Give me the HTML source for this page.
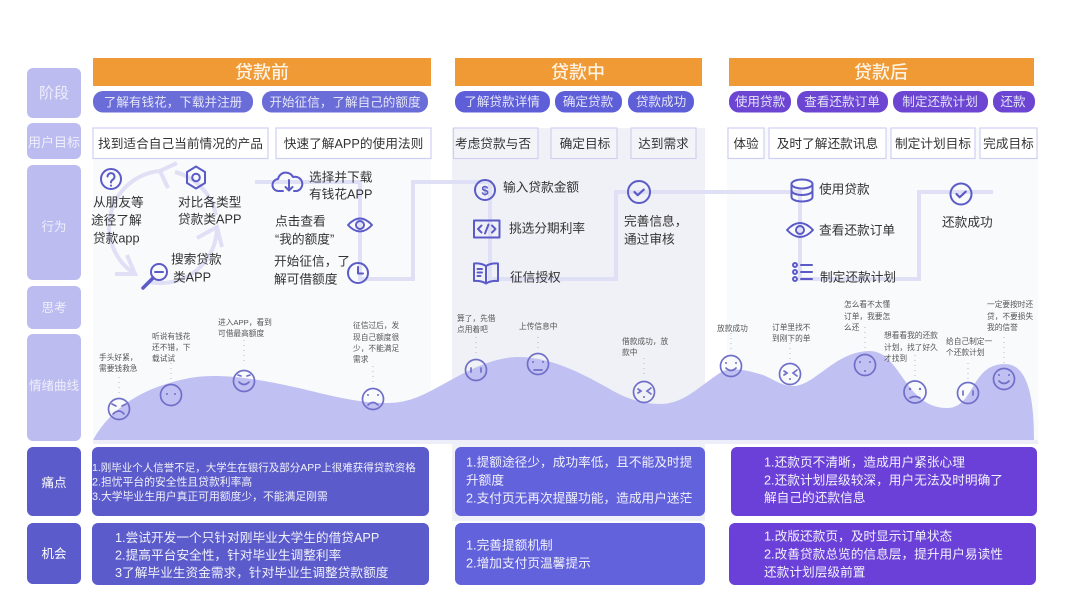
<!DOCTYPE html>
<html lang="zh">
<head>
<meta charset="utf-8">
<title>用户体验地图</title>
<style>
html,body{margin:0;padding:0;background:#fff}
svg{display:block;filter:blur(.3px)}
text{font-family:"Liberation Sans","Noto Sans CJK SC",sans-serif}
.lab{fill:#eeeefc;text-anchor:middle}
.pill{fill:#e4e5f8;font-size:12.6px;text-anchor:middle}
.ttl{fill:#fdf3e4;font-size:18px;font-weight:500;text-anchor:middle}
.goal{fill:#333;font-size:12.7px;text-anchor:middle}
.box{fill:#fff;stroke:#cfcff2;stroke-width:1.2}
.b{fill:#333;font-size:12.7px}
.s{fill:#555;font-size:7.7px}
.c{fill:#f1f1fb;font-size:12.7px}
.ic{fill:none;stroke:#5b5bc8;stroke-width:2;stroke-linecap:round;stroke-linejoin:round}
.f{fill:none;stroke:#6f6fc9;stroke-width:1.7;stroke-linecap:round}
.fd{fill:#6f6fc9}
.dot{stroke:#b5b5c4;stroke-width:1;stroke-dasharray:1 4;fill:none}
.con{fill:none;stroke:#dfdff6;stroke-width:4}
</style>
</head>
<body>
<svg width="1067" height="600" viewBox="0 0 1067 600" xmlns="http://www.w3.org/2000/svg">
<rect width="1067" height="600" fill="#fff"/>

<!-- column backgrounds -->
<rect x="93" y="159" width="338" height="282" fill="#f9fafc"/>
<rect x="452" y="128" width="253" height="393" fill="#f0f1f6"/>
<rect x="727" y="128" width="311" height="314" fill="#f9fafc"/>
<rect x="93" y="440" width="945" height="4" fill="#eeeefb"/>

<!-- left labels -->
<rect x="27" y="68" width="54" height="50" rx="6" fill="#bcbcf0"/>
<rect x="27" y="123" width="54" height="36" rx="6" fill="#bcbcf0"/>
<rect x="27" y="165" width="54" height="115" rx="6" fill="#bcbcf0"/>
<rect x="27" y="286" width="54" height="43" rx="6" fill="#bcbcf0"/>
<rect x="27" y="334" width="54" height="107" rx="6" fill="#bcbcf0"/>
<rect x="27" y="447" width="54" height="69" rx="6" fill="#5b5bcb"/>
<rect x="27" y="523" width="54" height="61" rx="6" fill="#5b5bcb"/>
<text class="lab" x="54" y="98" font-size="15">阶段</text>
<text class="lab" x="54" y="147" font-size="13">用户目标</text>
<text class="lab" x="54" y="231" font-size="12.5">行为</text>
<text class="lab" x="54" y="312" font-size="12.5">思考</text>
<text class="lab" x="54" y="390" font-size="12.5">情绪曲线</text>
<text class="lab" x="54" y="487" font-size="12.5" style="fill:#fff">痛点</text>
<text class="lab" x="54" y="558" font-size="12.5" style="fill:#fff">机会</text>

<!-- stage headers -->
<rect x="93" y="58" width="338" height="28" fill="#f09a36"/>
<rect x="455" y="58" width="247" height="28" fill="#f09a36"/>
<rect x="729" y="58" width="305" height="28" fill="#f09a36"/>
<text class="ttl" x="262" y="78.500">贷款前</text>
<text class="ttl" x="578" y="78.500">贷款中</text>
<text class="ttl" x="881" y="78.500">贷款后</text>

<!-- pills -->
<rect x="93" y="91" width="160" height="21.500" rx="10" fill="#6a6dd8"/>
<rect x="262" y="91" width="166" height="21.500" rx="10" fill="#6a6dd8"/>
<rect x="455" y="91" width="95" height="21.500" rx="10" fill="#5e5ed8"/>
<rect x="555" y="91" width="67" height="21.500" rx="10" fill="#5e5ed8"/>
<rect x="628" y="91" width="66" height="21.500" rx="10" fill="#5e5ed8"/>
<rect x="729" y="91" width="62" height="21.500" rx="10" fill="#6d45d3"/>
<rect x="797" y="91" width="91" height="21.500" rx="10" fill="#6d45d3"/>
<rect x="893" y="91" width="95" height="21.500" rx="10" fill="#6d45d3"/>
<rect x="993" y="91" width="42" height="21.500" rx="10" fill="#6d45d3"/>
<text class="pill" x="173" y="106.500">了解有钱花，下载并注册</text>
<text class="pill" x="345" y="106.500">开始征信，了解自己的额度</text>
<text class="pill" x="502" y="106">了解贷款详情</text>
<text class="pill" x="588" y="106">确定贷款</text>
<text class="pill" x="661" y="106">贷款成功</text>
<text class="pill" x="760" y="106">使用贷款</text>
<text class="pill" x="842" y="106">查看还款订单</text>
<text class="pill" x="940" y="106">制定还款计划</text>
<text class="pill" x="1013" y="106">还款</text>

<!-- goals -->
<rect class="box" x="93" y="128" width="175" height="30.500"/>
<rect class="box" x="276" y="128" width="155" height="30.500"/>
<rect class="box" x="453.500" y="128" width="84.500" height="30.500" style="fill:#f3f4f8"/>
<rect class="box" x="551" y="128" width="66" height="30.500" style="fill:#f3f4f8"/>
<rect class="box" x="631" y="128" width="65" height="30.500" style="fill:#f3f4f8"/>
<rect class="box" x="728" y="128" width="36" height="30.500"/>
<rect class="box" x="769" y="128" width="117" height="30.500"/>
<rect class="box" x="891" y="128" width="84" height="30.500"/>
<rect class="box" x="980" y="128" width="57" height="30.500"/>
<text class="goal" x="180.500" y="148">找到适合自己当前情况的产品</text>
<text class="goal" x="353.500" y="148">快速了解APP的使用法则</text>
<text class="goal" x="493" y="148">考虑贷款与否</text>
<text class="goal" x="585" y="148">确定目标</text>
<text class="goal" x="663.500" y="148">达到需求</text>
<text class="goal" x="746" y="148">体验</text>
<text class="goal" x="827.500" y="148">及时了解还款讯息</text>
<text class="goal" x="933" y="148">制定计划目标</text>
<text class="goal" x="1008.500" y="148">完成目标</text>

<!-- connector lines -->
<path class="con" d="M255 182H360V279H413V182H490V279H616V192H800V279H919V192H993"/>

<!-- cycle -->
<g class="con">
<path d="M160 171A56 56 0 0 0 135 274"/>
<path d="M150 282A56 56 0 0 0 217 227"/>
<path d="M216 215A56 56 0 0 0 175 172"/>
<path d="M177 163L160 171L168 188"/>
<path d="M197 238L217 227L222 247"/>
<path d="M115 274L135 274L127 255"/>
</g>

<!-- icons left -->
<g class="ic">
<circle cx="111" cy="179" r="10"/>
<path d="M107.500 176.500a3.500 3.500 0 1 1 5.500 3c-1.300.8-2 1.500-2 3"/>
<path d="M111 185.500v.2"/>
<path d="M196 166.500L205 172V183L196 188.500L187 183V172Z"/>
<circle cx="196" cy="177.500" r="3.800"/>
<circle cx="159" cy="272" r="8"/>
<path d="M155 272h8"/>
<path d="M153 278L143 288" stroke-width="3.500"/>
<path d="M283 191h-4a6 6 0 0 1-1-12a8 8 0 0 1 15-2a7 7 0 0 1 4 14h-3"/>
<path d="M289 180v10M285.500 187l3.500 3.500 3.500-3.500"/>
<path d="M348 225q12-13 24 0q-12 13-24 0Z" stroke-width="2"/>
<circle cx="360" cy="225" r="4"/>
<circle cx="358" cy="273" r="10"/>
<path d="M358 267v6.500h5"/>
</g>

<!-- icons middle -->
<g class="ic">
<circle cx="485" cy="190" r="10"/>
<text x="485" y="195" text-anchor="middle" font-size="13" font-weight="700" style="fill:#5b5bc8;stroke:none">$</text>
<rect x="474" y="220.500" width="25.500" height="17"/>
<path d="M481.500 225.500l-3.500 3.500 3.500 3.500M492 225.500l3.500 3.500-3.500 3.500M488.500 224.500l-3.500 9"/>
<path d="M486 266q-5-3-12-2.500V281q7-.5 12 2.500q5-3 12-2.500V263.500q-7-.5-12 2.500ZM486 266v17"/>
<path d="M477.500 269h4.500M477.500 272.500h4.500M477.500 276h3"/>
<circle cx="639" cy="192" r="11"/>
<path d="M634.500 192l3.200 3.200 6-5.500" stroke-width="2.200"/>
</g>

<!-- icons right -->
<g class="ic">
<ellipse cx="802" cy="184" rx="10.500" ry="4.500"/>
<path d="M791.500 184v13c0 2.500 4.500 4.500 10.500 4.500s10.500-2 10.500-4.500v-13"/>
<path d="M791.500 190.500c0 2.500 4.500 4.500 10.500 4.500s10.500-2 10.500-4.500"/>
<path d="M787 230q13-14 26 0q-13 14-26 0Z" stroke-width="2"/>
<circle cx="800" cy="230" r="4"/>
<circle cx="795" cy="265" r="2"/>
<circle cx="795" cy="272" r="2"/>
<circle cx="795" cy="279" r="2"/>
<path d="M801 265h11M801 272h11M801 279h11"/>
<circle cx="961" cy="194" r="10.500"/>
<path d="M956.500 194l3.200 3.200 6-5.500" stroke-width="2.200"/>
</g>

<!-- behaviour text -->
<text class="b" x="93" y="206.500">从朋友等</text>
<text class="b" x="91" y="224.500">途径了解</text>
<text class="b" x="93" y="242.500">贷款app</text>
<text class="b" x="178" y="206.500">对比各类型</text>
<text class="b" x="178" y="223.500">贷款类APP</text>
<text class="b" x="171" y="263.500">搜索贷款</text>
<text class="b" x="173" y="281.500">类APP</text>
<text class="b" x="309" y="181.500">选择并下载</text>
<text class="b" x="309" y="198.500">有钱花APP</text>
<text class="b" x="275" y="225.500">点击查看</text>
<text class="b" x="275" y="243.500">“我的额度”</text>
<text class="b" x="274" y="265.500">开始征信，了</text>
<text class="b" x="274" y="283.500">解可借额度</text>
<text class="b" x="503" y="191.500">输入贷款金额</text>
<text class="b" x="509" y="232.500">挑选分期利率</text>
<text class="b" x="510" y="281.500">征信授权</text>
<text class="b" x="624" y="225.500">完善信息，</text>
<text class="b" x="624" y="243.500">通过审核</text>
<text class="b" x="819" y="193.500">使用贷款</text>
<text class="b" x="819" y="234.500">查看还款订单</text>
<text class="b" x="820" y="281.500">制定还款计划</text>
<text class="b" x="942" y="226.500">还款成功</text>

<!-- curve -->
<path fill="#c1c0f2" d="M93 440C108 413 132 396 160 386C180 379 197 376 213 376C235 376 255 379 280 384C320 392 350 403 387 403C410 403 425 394 440 386C460 375 490 357 518 357C555 357 590 378 615 392C630 400 645 404 660 404C685 404 700 385 723 371C735 367 750 371 763 375C775 380 782 386 793 386C815 386 835 351 870 351C900 351 905 408 947 408C975 408 970 364 1005 364C1030 364 1034 405 1034 440Z"/>

<!-- dotted leaders -->
<path class="dot" d="M119 377V395M171 363V382M244 340V363M373 366V383M476 332V355M538 337V350M644 358V375M731 333V350M790 343V360M865 327V348M915 355V380M968 363V380M1004 337V363"/>

<!-- faces -->
<g class="f">
<circle cx="119" cy="409" r="10.500"/>
<path d="M113 414q6-6 11 0M112 404l4 2M126 404l-4 2"/>
<circle cx="171" cy="395" r="10.500"/>
<circle cx="244" cy="381" r="10.500"/>
<path d="M239 382q5 5 10 0M238 375l3 1M250 375l-3 1"/>
<circle cx="373" cy="399" r="10.500"/>
<path d="M368 405q5-5 10 0"/>
<circle cx="476" cy="370" r="10.500"/>
<path d="M471 368v4M481 368v4"/>
<circle cx="538" cy="364" r="10.500"/>
<path d="M534 370h8"/>
<circle cx="644" cy="392" r="10.500"/>
<path d="M638 389l3 2-3 2M651 388l-4 3 4 3"/>
<circle cx="731" cy="366" r="10.500"/>
<path d="M726 368q5 5 10 0"/>
<circle cx="790" cy="374" r="10.500"/>
<path d="M784 371l3 2-3 2M797 370l-4 3 4 3"/>
<circle cx="865" cy="365" r="10.500"/>
<circle cx="915" cy="392" r="11"/>
<path d="M910 398q5-3 10 0"/>
<circle cx="968" cy="393" r="10.500"/>
<path d="M963 391v4M973 391v4"/>
<circle cx="1004" cy="379" r="10.500"/>
<path d="M999 381q5 5 10 0"/>
</g>
<g class="fd">
<circle cx="167" cy="394" r="1"/><circle cx="175" cy="394" r="1"/>
<circle cx="368" cy="395" r="1"/><circle cx="378" cy="395" r="1"/>
<circle cx="533" cy="362" r="1"/><circle cx="543" cy="362" r="1"/>
<circle cx="644" cy="397" r="1"/>
<circle cx="726" cy="363" r="1"/><circle cx="736" cy="363" r="1"/>
<circle cx="790" cy="379" r="1"/>
<circle cx="860" cy="362" r="1"/><circle cx="870" cy="362" r="1"/><circle cx="865" cy="371" r="1"/>
<circle cx="910" cy="389" r="1.200"/><circle cx="920" cy="389" r="1.200"/>
<circle cx="999" cy="375" r="1"/><circle cx="1009" cy="375" r="1"/>
</g>

<!-- small notes -->
<text class="s" x="99" y="360">手头好紧，</text>
<text class="s" x="99" y="371">需要钱救急</text>
<text class="s" x="152" y="339">听说有钱花</text>
<text class="s" x="152" y="350">还不错，下</text>
<text class="s" x="152" y="361">载试试</text>
<text class="s" x="218" y="325">进入APP，看到</text>
<text class="s" x="218" y="336">可借最高额度</text>
<text class="s" x="353" y="328">征信过后，发</text>
<text class="s" x="353" y="340">现自己额度很</text>
<text class="s" x="353" y="351">少，不能满足</text>
<text class="s" x="353" y="362">需求</text>
<text class="s" x="457" y="321">算了，先借</text>
<text class="s" x="457" y="332">点用着吧</text>
<text class="s" x="519" y="329">上传信息中</text>
<text class="s" x="622" y="344">借款成功，放</text>
<text class="s" x="622" y="355">款中</text>
<text class="s" x="717" y="331">放款成功</text>
<text class="s" x="772" y="330">订单里找不</text>
<text class="s" x="772" y="341">到刚下的单</text>
<text class="s" x="844" y="307">怎么看不太懂</text>
<text class="s" x="844" y="319">订单，我要怎</text>
<text class="s" x="844" y="330">么还</text>
<text class="s" x="884" y="338">想看看我的还款</text>
<text class="s" x="884" y="350">计划，找了好久</text>
<text class="s" x="884" y="361">才找到</text>
<text class="s" x="946" y="344">给自己制定一</text>
<text class="s" x="946" y="355">个还款计划</text>
<text class="s" x="987" y="307">一定要按时还</text>
<text class="s" x="987" y="319">贷，不要损失</text>
<text class="s" x="987" y="330">我的信誉</text>

<!-- bottom cards -->
<rect x="92" y="447" width="337" height="69" rx="6" fill="#5b5bcb"/>
<rect x="92" y="523" width="337" height="62" rx="6" fill="#5b5bcb"/>
<rect x="455" y="447" width="250" height="69" rx="6" fill="#6262dd"/>
<rect x="455" y="523" width="250" height="62" rx="6" fill="#6262dd"/>
<rect x="731" y="447" width="306" height="69" rx="6" fill="#6b40d8"/>
<rect x="729" y="523" width="307" height="62" rx="6" fill="#6b40d8"/>

<text class="c" x="92" y="471" style="font-size:10.500px">1.刚毕业个人信誉不足，大学生在银行及部分APP上很难获得贷款资格</text>
<text class="c" x="92" y="485.500" style="font-size:10.800px">2.担忧平台的安全性且贷款利率高</text>
<text class="c" x="92" y="500" style="font-size:10.800px">3.大学毕业生用户真正可用额度少，不能满足刚需</text>
<text class="c" x="115" y="542">1.尝试开发一个只针对刚毕业大学生的借贷APP</text>
<text class="c" x="115" y="559.500">2.提高平台安全性，针对毕业生调整利率</text>
<text class="c" x="115" y="577">3了解毕业生资金需求，针对毕业生调整贷款额度</text>

<text class="c" x="466" y="466.500">1.提额途径少，成功率低，且不能及时提</text>
<text class="c" x="466" y="484.500">升额度</text>
<text class="c" x="466" y="502.500">2.支付页无再次提醒功能，造成用户迷茫</text>
<text class="c" x="466" y="549.500">1.完善提额机制</text>
<text class="c" x="466" y="567.500">2.增加支付页温馨提示</text>

<text class="c" x="764" y="466.500">1.还款页不清晰，造成用户紧张心理</text>
<text class="c" x="764" y="484.500">2.还款计划层级较深，用户无法及时明确了</text>
<text class="c" x="764" y="502">解自己的还款信息</text>
<text class="c" x="764" y="540.500">1.改版还款页，及时显示订单状态</text>
<text class="c" x="764" y="558.500">2.改善贷款总览的信息层，提升用户易读性</text>
<text class="c" x="764" y="576.500">还款计划层级前置</text>
</svg>
</body>
</html>
